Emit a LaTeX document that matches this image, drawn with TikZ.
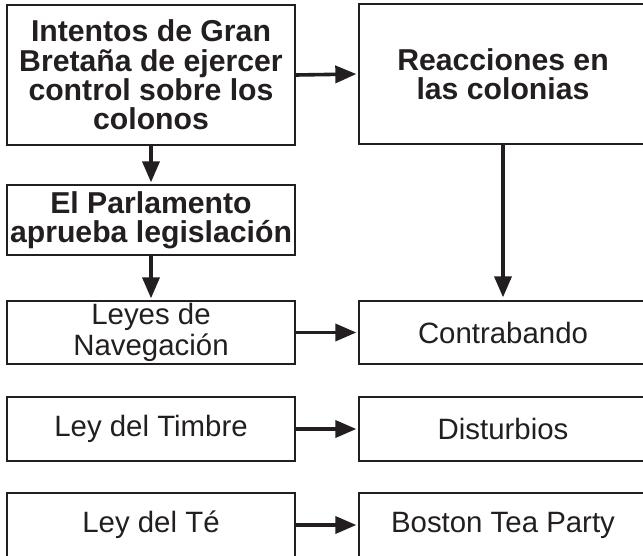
\documentclass[tikz,border=0pt]{standalone}
\usepackage{fontspec}
\setmainfont{Liberation Sans}
\usetikzlibrary{arrows.meta}
\definecolor{ink}{HTML}{231F20}
\tikzset{
  box/.style={draw=ink, line width=1.3pt, minimum width=288pt, inner sep=0pt, align=center, text=ink,
    font=\fontsize{29.4}{30.5}\selectfont},
  boldbox/.style={box, font=\fontsize{30.2}{29.2}\selectfont\bfseries},
  link/.style={draw=ink, line width=3.6pt, -{Triangle[length=21pt,width=17pt]}, shorten >=2pt}
}
\begin{document}
\begin{tikzpicture}[x=1pt,y=-1pt]
\clip (0,0) rectangle (643,555);
\fill[white] (0,0) rectangle (643,555);
% left column
\node[boldbox, minimum height=140pt] (intentos) at (151,75) {Intentos de Gran\\Bretaña de ejercer\\control sobre los\\colonos};
\node[boldbox, minimum height=70pt] (parlamento) at (151,220) {El Parlamento\\aprueba legislación};
\node[box, minimum height=63pt] (leyes) at (151,332.5) {Leyes de\\Navegación};
\node[box, minimum height=64pt] (timbre) at (151,429) {Ley del Timbre};
\node[box, minimum height=64pt] (te) at (151,525) {Ley del Té};
% right column
\node[boldbox, minimum height=140pt] (reacciones) at (503,74) {Reacciones en\\las colonias};
\node[box, minimum height=63pt] (contrabando) at (503,332.5) {Contrabando};
\node[box, minimum height=64pt] (disturbios) at (503,429) {Disturbios};
\node[box, minimum height=64pt] (boston) at (503,525) {Boston Tea Party};
% connectors
\draw[link] (intentos.east) -- (reacciones.west);
\draw[link] (intentos.south) -- (parlamento.north);
\draw[link] (parlamento.south) -- (leyes.north);
\draw[link, shorten >=3pt] (reacciones.south) -- (contrabando.north);
\draw[link] (leyes.east) -- (contrabando.west);
\draw[link] (timbre.east) -- (disturbios.west);
\draw[link] (te.east) -- (boston.west);
\end{tikzpicture}
\end{document}
